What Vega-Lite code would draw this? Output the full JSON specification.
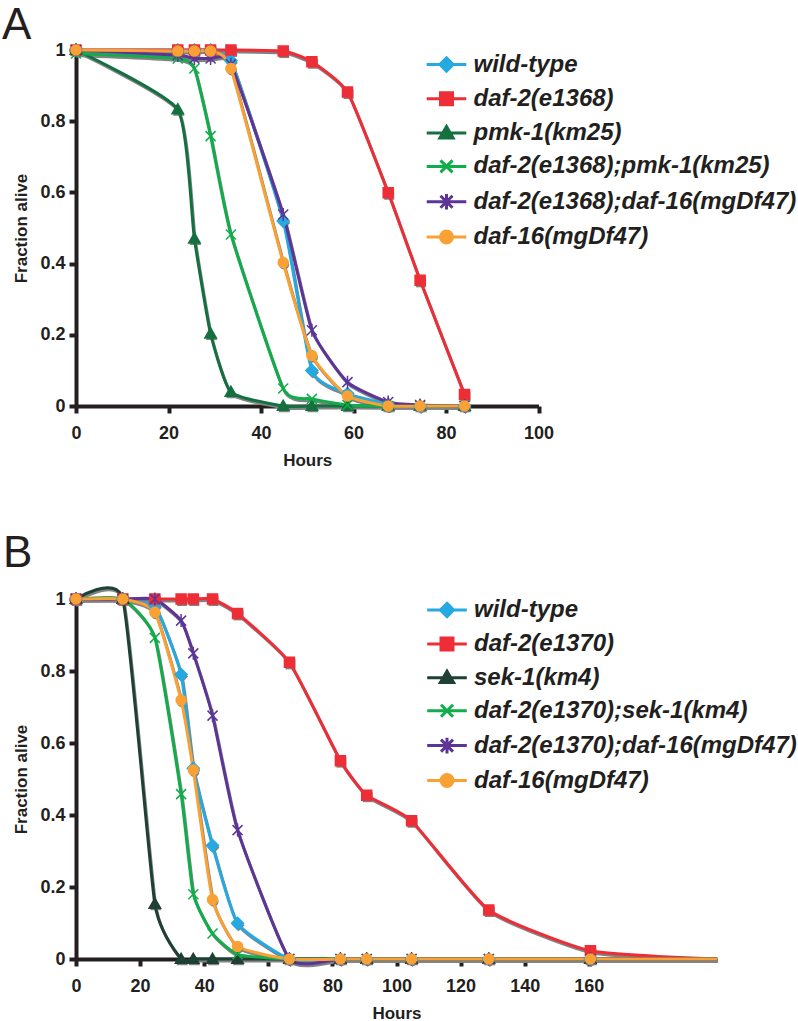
{
  "$schema": "https://vega.github.io/schema/vega-lite/v6.json",
  "background": "white",
  "padding": {"left": 2, "top": 3, "right": 0, "bottom": 0},
  "config": {
    "view": {"stroke": null},
    "font": "Liberation Sans",
    "axis": {"domainColor": "#231f20", "domainWidth": 4, "tickColor": "#231f20", "tickWidth": 4, "tickSize": 7, "labelFontSize": 18, "labelFontWeight": "bold", "labelColor": "#231f20", "labelFont": "Liberation Sans", "titleFontSize": 17, "titleFontWeight": "bold", "titleColor": "#231f20", "titleFont": "Liberation Sans", "grid": false, "labelFlush": false},
    "axisX": {"labelPadding": 11, "titlePadding": 10},
    "axisY": {"labelPadding": 4, "titlePadding": 9},
    "legend": {"labelFontSize": 24, "labelFontStyle": "italic", "labelFontWeight": "bold", "labelColor": "#231f20", "labelFont": "Liberation Sans", "symbolSize": 144, "symbolStrokeWidth": 3, "labelOffset": 15, "rowPadding": 8.9, "padding": 0, "labelLimit": 600, "symbolOpacity": 1, "symbolFillColor": "#000000", "symbolStrokeColor": "#000000"},
    "title": {"anchor": "start", "frame": "group", "fontSize": 44, "fontWeight": "normal", "color": "#231f20", "font": "Liberation Sans"}
  },
  "datasets": {
    "A": [
      {"s": "wild-type", "h": 0, "f": 1}, {"s": "wild-type", "h": 22, "f": 1}, {"s": "wild-type", "h": 25.6, "f": 1}, {"s": "wild-type", "h": 29.1, "f": 1}, {"s": "wild-type", "h": 33.5, "f": 0.97}, {"s": "wild-type", "h": 44.8, "f": 0.52}, {"s": "wild-type", "h": 51, "f": 0.1}, {"s": "wild-type", "h": 58.7, "f": 0.035}, {"s": "wild-type", "h": 67.5, "f": 0.005}, {"s": "wild-type", "h": 74.4, "f": 0}, {"s": "wild-type", "h": 84, "f": 0},
      {"s": "daf-2(e1368)", "h": 0, "f": 1}, {"s": "daf-2(e1368)", "h": 22, "f": 1}, {"s": "daf-2(e1368)", "h": 25.6, "f": 1}, {"s": "daf-2(e1368)", "h": 29.1, "f": 1}, {"s": "daf-2(e1368)", "h": 33.5, "f": 1}, {"s": "daf-2(e1368)", "h": 44.8, "f": 0.997}, {"s": "daf-2(e1368)", "h": 51, "f": 0.967}, {"s": "daf-2(e1368)", "h": 58.7, "f": 0.882}, {"s": "daf-2(e1368)", "h": 67.5, "f": 0.599}, {"s": "daf-2(e1368)", "h": 74.4, "f": 0.353}, {"s": "daf-2(e1368)", "h": 84, "f": 0.032},
      {"s": "pmk-1(km25)", "h": 0, "f": 1}, {"s": "pmk-1(km25)", "h": 22, "f": 0.833}, {"s": "pmk-1(km25)", "h": 25.6, "f": 0.47}, {"s": "pmk-1(km25)", "h": 29.1, "f": 0.203}, {"s": "pmk-1(km25)", "h": 33.5, "f": 0.039}, {"s": "pmk-1(km25)", "h": 44.8, "f": 0}, {"s": "pmk-1(km25)", "h": 51, "f": 0}, {"s": "pmk-1(km25)", "h": 58.7, "f": 0}, {"s": "pmk-1(km25)", "h": 67.5, "f": 0}, {"s": "pmk-1(km25)", "h": 74.4, "f": 0}, {"s": "pmk-1(km25)", "h": 84, "f": 0},
      {"s": "daf-2(e1368);pmk-1(km25)", "h": 0, "f": 0.99}, {"s": "daf-2(e1368);pmk-1(km25)", "h": 22, "f": 0.976}, {"s": "daf-2(e1368);pmk-1(km25)", "h": 25.6, "f": 0.948}, {"s": "daf-2(e1368);pmk-1(km25)", "h": 29.1, "f": 0.758}, {"s": "daf-2(e1368);pmk-1(km25)", "h": 33.5, "f": 0.482}, {"s": "daf-2(e1368);pmk-1(km25)", "h": 44.8, "f": 0.049}, {"s": "daf-2(e1368);pmk-1(km25)", "h": 51, "f": 0.02}, {"s": "daf-2(e1368);pmk-1(km25)", "h": 58.7, "f": 0.003}, {"s": "daf-2(e1368);pmk-1(km25)", "h": 67.5, "f": 0}, {"s": "daf-2(e1368);pmk-1(km25)", "h": 74.4, "f": 0}, {"s": "daf-2(e1368);pmk-1(km25)", "h": 84, "f": 0},
      {"s": "daf-2(e1368);daf-16(mgDf47)", "h": 0, "f": 1}, {"s": "daf-2(e1368);daf-16(mgDf47)", "h": 22, "f": 0.985}, {"s": "daf-2(e1368);daf-16(mgDf47)", "h": 25.6, "f": 0.976}, {"s": "daf-2(e1368);daf-16(mgDf47)", "h": 29.1, "f": 0.976}, {"s": "daf-2(e1368);daf-16(mgDf47)", "h": 33.5, "f": 0.96}, {"s": "daf-2(e1368);daf-16(mgDf47)", "h": 44.8, "f": 0.538}, {"s": "daf-2(e1368);daf-16(mgDf47)", "h": 51, "f": 0.213}, {"s": "daf-2(e1368);daf-16(mgDf47)", "h": 58.7, "f": 0.067}, {"s": "daf-2(e1368);daf-16(mgDf47)", "h": 67.5, "f": 0.011}, {"s": "daf-2(e1368);daf-16(mgDf47)", "h": 74.4, "f": 0.003}, {"s": "daf-2(e1368);daf-16(mgDf47)", "h": 84, "f": 0},
      {"s": "daf-16(mgDf47)", "h": 0, "f": 1}, {"s": "daf-16(mgDf47)", "h": 22, "f": 0.997}, {"s": "daf-16(mgDf47)", "h": 25.6, "f": 0.997}, {"s": "daf-16(mgDf47)", "h": 29.1, "f": 0.997}, {"s": "daf-16(mgDf47)", "h": 33.5, "f": 0.948}, {"s": "daf-16(mgDf47)", "h": 44.8, "f": 0.403}, {"s": "daf-16(mgDf47)", "h": 51, "f": 0.142}, {"s": "daf-16(mgDf47)", "h": 58.7, "f": 0.028}, {"s": "daf-16(mgDf47)", "h": 67.5, "f": 0}, {"s": "daf-16(mgDf47)", "h": 74.4, "f": 0}, {"s": "daf-16(mgDf47)", "h": 84, "f": 0}
    ],
    "B": [
      {"s": "wild-type", "h": 0, "f": 1}, {"s": "wild-type", "h": 14.6, "f": 1}, {"s": "wild-type", "h": 24.6, "f": 0.981}, {"s": "wild-type", "h": 32.8, "f": 0.79}, {"s": "wild-type", "h": 36.6, "f": 0.53}, {"s": "wild-type", "h": 42.6, "f": 0.315}, {"s": "wild-type", "h": 50.4, "f": 0.099}, {"s": "wild-type", "h": 66.6, "f": 0}, {"s": "wild-type", "h": 82.5, "f": 0}, {"s": "wild-type", "h": 90.7, "f": 0}, {"s": "wild-type", "h": 104.7, "f": 0}, {"s": "wild-type", "h": 128.8, "f": 0}, {"s": "wild-type", "h": 160.5, "f": 0}, {"s": "wild-type", "h": 200, "f": 0},
      {"s": "daf-2(e1370)", "h": 0, "f": 1}, {"s": "daf-2(e1370)", "h": 14.6, "f": 1}, {"s": "daf-2(e1370)", "h": 24.6, "f": 1}, {"s": "daf-2(e1370)", "h": 32.8, "f": 1}, {"s": "daf-2(e1370)", "h": 36.6, "f": 1}, {"s": "daf-2(e1370)", "h": 42.6, "f": 1}, {"s": "daf-2(e1370)", "h": 50.4, "f": 0.96}, {"s": "daf-2(e1370)", "h": 66.6, "f": 0.824}, {"s": "daf-2(e1370)", "h": 82.5, "f": 0.551}, {"s": "daf-2(e1370)", "h": 90.7, "f": 0.455}, {"s": "daf-2(e1370)", "h": 104.7, "f": 0.384}, {"s": "daf-2(e1370)", "h": 128.8, "f": 0.136}, {"s": "daf-2(e1370)", "h": 160.5, "f": 0.023}, {"s": "daf-2(e1370)", "h": 200, "f": 0},
      {"s": "sek-1(km4)", "h": 0, "f": 1}, {"s": "sek-1(km4)", "h": 14.6, "f": 1}, {"s": "sek-1(km4)", "h": 24.6, "f": 0.153}, {"s": "sek-1(km4)", "h": 32.8, "f": 0}, {"s": "sek-1(km4)", "h": 36.6, "f": 0}, {"s": "sek-1(km4)", "h": 42.6, "f": 0}, {"s": "sek-1(km4)", "h": 50.4, "f": 0}, {"s": "sek-1(km4)", "h": 66.6, "f": 0}, {"s": "sek-1(km4)", "h": 82.5, "f": 0}, {"s": "sek-1(km4)", "h": 90.7, "f": 0}, {"s": "sek-1(km4)", "h": 104.7, "f": 0}, {"s": "sek-1(km4)", "h": 128.8, "f": 0}, {"s": "sek-1(km4)", "h": 160.5, "f": 0}, {"s": "sek-1(km4)", "h": 200, "f": 0},
      {"s": "daf-2(e1370);sek-1(km4)", "h": 0, "f": 1}, {"s": "daf-2(e1370);sek-1(km4)", "h": 14.6, "f": 1}, {"s": "daf-2(e1370);sek-1(km4)", "h": 24.6, "f": 0.892}, {"s": "daf-2(e1370);sek-1(km4)", "h": 32.8, "f": 0.458}, {"s": "daf-2(e1370);sek-1(km4)", "h": 36.6, "f": 0.18}, {"s": "daf-2(e1370);sek-1(km4)", "h": 42.6, "f": 0.071}, {"s": "daf-2(e1370);sek-1(km4)", "h": 50.4, "f": 0.013}, {"s": "daf-2(e1370);sek-1(km4)", "h": 66.6, "f": 0}, {"s": "daf-2(e1370);sek-1(km4)", "h": 82.5, "f": 0}, {"s": "daf-2(e1370);sek-1(km4)", "h": 90.7, "f": 0}, {"s": "daf-2(e1370);sek-1(km4)", "h": 104.7, "f": 0}, {"s": "daf-2(e1370);sek-1(km4)", "h": 128.8, "f": 0}, {"s": "daf-2(e1370);sek-1(km4)", "h": 160.5, "f": 0}, {"s": "daf-2(e1370);sek-1(km4)", "h": 200, "f": 0},
      {"s": "daf-2(e1370);daf-16(mgDf47)", "h": 0, "f": 1}, {"s": "daf-2(e1370);daf-16(mgDf47)", "h": 14.6, "f": 1}, {"s": "daf-2(e1370);daf-16(mgDf47)", "h": 24.6, "f": 1}, {"s": "daf-2(e1370);daf-16(mgDf47)", "h": 32.8, "f": 0.94}, {"s": "daf-2(e1370);daf-16(mgDf47)", "h": 36.6, "f": 0.849}, {"s": "daf-2(e1370);daf-16(mgDf47)", "h": 42.6, "f": 0.676}, {"s": "daf-2(e1370);daf-16(mgDf47)", "h": 50.4, "f": 0.358}, {"s": "daf-2(e1370);daf-16(mgDf47)", "h": 66.6, "f": 0}, {"s": "daf-2(e1370);daf-16(mgDf47)", "h": 82.5, "f": 0}, {"s": "daf-2(e1370);daf-16(mgDf47)", "h": 90.7, "f": 0}, {"s": "daf-2(e1370);daf-16(mgDf47)", "h": 104.7, "f": 0}, {"s": "daf-2(e1370);daf-16(mgDf47)", "h": 128.8, "f": 0}, {"s": "daf-2(e1370);daf-16(mgDf47)", "h": 160.5, "f": 0}, {"s": "daf-2(e1370);daf-16(mgDf47)", "h": 200, "f": 0},
      {"s": "daf-16(mgDf47)", "h": 0, "f": 1}, {"s": "daf-16(mgDf47)", "h": 14.6, "f": 1}, {"s": "daf-16(mgDf47)", "h": 24.6, "f": 0.963}, {"s": "daf-16(mgDf47)", "h": 32.8, "f": 0.719}, {"s": "daf-16(mgDf47)", "h": 36.6, "f": 0.525}, {"s": "daf-16(mgDf47)", "h": 42.6, "f": 0.165}, {"s": "daf-16(mgDf47)", "h": 50.4, "f": 0.035}, {"s": "daf-16(mgDf47)", "h": 66.6, "f": 0}, {"s": "daf-16(mgDf47)", "h": 82.5, "f": 0}, {"s": "daf-16(mgDf47)", "h": 90.7, "f": 0}, {"s": "daf-16(mgDf47)", "h": 104.7, "f": 0}, {"s": "daf-16(mgDf47)", "h": 128.8, "f": 0}, {"s": "daf-16(mgDf47)", "h": 160.5, "f": 0}, {"s": "daf-16(mgDf47)", "h": 200, "f": 0}
    ]
  },
  "spacing": 63,
  "resolve": {"scale": {"color": "independent", "fill": "independent", "stroke": "independent", "shape": "independent", "x": "independent"}, "legend": {"color": "independent", "fill": "independent", "stroke": "independent", "shape": "independent"}},
  "vconcat": [
    {
      "title": {"text": "A", "dx": -74, "offset": -7},
      "width": 462.5,
      "height": 356,
      "data": {"name": "A"},
      "encoding": {
        "x": {"field": "h", "type": "quantitative", "scale": {"domain": [0, 100], "nice": false}, "axis": {"values": [0, 20, 40, 60, 80, 100], "title": "Hours"}},
        "y": {"field": "f", "type": "quantitative", "scale": {"domain": [0, 1], "nice": false}, "axis": {"values": [0, 0.2, 0.4, 0.6, 0.8, 1], "format": ".1~f", "title": "Fraction alive"}}
      },
      "resolve": {"scale": {"shape": "independent", "fill": "independent", "stroke": "independent"}, "legend": {"shape": "independent", "fill": "independent", "stroke": "independent"}},
      "layer": [
        {"mark": {"type": "line", "interpolate": "cardinal", "tension": 0.5, "color": "#808285", "strokeWidth": 3, "xOffset": 1, "yOffset": 2}, "encoding": {"detail": {"field": "s"}}},
        {"mark": {"type": "point", "filled": true, "color": "#808285", "opacity": 1, "size": 100, "xOffset": 1, "yOffset": 2},
         "encoding": {"shape": {"field": "s", "type": "nominal", "legend": null, "scale": {"domain": ["wild-type", "daf-2(e1368)", "pmk-1(km25)", "daf-2(e1368);pmk-1(km25)", "daf-2(e1368);daf-16(mgDf47)", "daf-16(mgDf47)"], "range": ["M0,-1.2L1.2,0L0,1.2L-1.2,0Z", "M-1,-1H1V1H-1Z", "M0,-1.15L1.15,0.85H-1.15Z", "M-1,-1L1,1M-1,1L1,-1", "M-1,-1L1,1M-1,1L1,-1M0,-1.3V1.3", "M1,0A1,1,0,1,1,-1,0A1,1,0,1,1,1,0Z"]}}}},
        {"mark": {"type": "line", "interpolate": "cardinal", "tension": 0.5, "strokeWidth": 3},
         "encoding": {"color": {"field": "s", "type": "nominal", "legend": null, "scale": {"domain": ["wild-type", "daf-2(e1368)", "pmk-1(km25)", "daf-2(e1368);pmk-1(km25)", "daf-2(e1368);daf-16(mgDf47)", "daf-16(mgDf47)"], "range": ["#25a9e0", "#ee2e36", "#14703f", "#12ad4b", "#5c3596", "#f9a134"]}}}},
        {"mark": {"type": "point", "filled": true, "opacity": 1, "size": 100, "strokeWidth": 1.5},
         "encoding": {
           "color": {"field": "s", "type": "nominal", "legend": null},
           "stroke": {"field": "s", "type": "nominal", "legend": null, "scale": {"domain": ["wild-type", "daf-2(e1368)", "pmk-1(km25)", "daf-2(e1368);pmk-1(km25)", "daf-2(e1368);daf-16(mgDf47)", "daf-16(mgDf47)"], "range": ["#25a9e0", "#ee2e36", "#14703f", "#12ad4b", "#5c3596", "#f9a134"]}},
           "shape": {"field": "s", "type": "nominal", "legend": null, "scale": {"domain": ["wild-type", "daf-2(e1368)", "pmk-1(km25)", "daf-2(e1368);pmk-1(km25)", "daf-2(e1368);daf-16(mgDf47)", "daf-16(mgDf47)"], "range": ["M0,-1.2L1.2,0L0,1.2L-1.2,0Z", "M-1,-1H1V1H-1Z", "M0,-1.15L1.15,0.85H-1.15Z", "M-1,-1L1,1M-1,1L1,-1", "M-1,-1L1,1M-1,1L1,-1M0,-1.3V1.3", "M1,0A1,1,0,1,1,-1,0A1,1,0,1,1,1,0Z"]}}
         }},
        {"mark": {"type": "point", "filled": true, "opacity": 0, "size": 100, "strokeWidth": 3},
         "encoding": {
           "fill": {"field": "s", "type": "nominal", "legend": {"orient": "none", "legendX": 358.5, "legendY": 2.5, "rowPadding": 9.3, "title": null}, "scale": {"domain": ["wild-type", "daf-2(e1368)", "pmk-1(km25)", "daf-2(e1368);pmk-1(km25)", "daf-2(e1368);daf-16(mgDf47)", "daf-16(mgDf47)"], "range": ["#25a9e0", "#ee2e36", "#14703f", "#12ad4b", "#5c3596", "#f9a134"]}},
           "stroke": {"field": "s", "type": "nominal", "legend": {"orient": "none", "legendX": 358.5, "legendY": 2.5, "rowPadding": 9.3, "title": null}, "scale": {"domain": ["wild-type", "daf-2(e1368)", "pmk-1(km25)", "daf-2(e1368);pmk-1(km25)", "daf-2(e1368);daf-16(mgDf47)", "daf-16(mgDf47)"], "range": ["#25a9e0", "#ee2e36", "#14703f", "#12ad4b", "#5c3596", "#f9a134"]}},
           "shape": {"field": "s", "type": "nominal", "legend": {"orient": "none", "legendX": 358.5, "legendY": 2.5, "rowPadding": 9.3, "title": null}, "scale": {"domain": ["wild-type", "daf-2(e1368)", "pmk-1(km25)", "daf-2(e1368);pmk-1(km25)", "daf-2(e1368);daf-16(mgDf47)", "daf-16(mgDf47)"], "range": ["M-3.3,0H3.3M0,-1.1L1.1,0L0,1.1L-1.1,0Z", "M-3.3,0H3.3M-1,-1H1V1H-1Z", "M-3.3,0H3.3M0,-1.1L1.1,0.8H-1.1Z", "M-3.3,0H3.3M-1,-1L1,1M-1,1L1,-1", "M-3.3,0H3.3M-1,-1L1,1M-1,1L1,-1M0,-1.3V1.3", "M-3.3,0H3.3M1,0A1,1,0,1,1,-1,0A1,1,0,1,1,1,0Z"]}}
         }}
      ]
    },
    {
      "title": {"text": "B", "dx": -73, "offset": 6},
      "width": 641,
      "height": 360,
      "data": {"name": "B"},
      "encoding": {
        "x": {"field": "h", "type": "quantitative", "scale": {"domain": [0, 200], "nice": false}, "axis": {"values": [0, 20, 40, 60, 80, 100, 120, 140, 160], "title": "Hours"}},
        "y": {"field": "f", "type": "quantitative", "scale": {"domain": [0, 1], "nice": false}, "axis": {"values": [0, 0.2, 0.4, 0.6, 0.8, 1], "format": ".1~f", "title": "Fraction alive"}}
      },
      "resolve": {"scale": {"shape": "independent", "fill": "independent", "stroke": "independent"}, "legend": {"shape": "independent", "fill": "independent", "stroke": "independent"}},
      "layer": [
        {"mark": {"type": "line", "interpolate": "cardinal", "tension": 0.5, "color": "#808285", "strokeWidth": 3, "xOffset": 1, "yOffset": 2}, "encoding": {"detail": {"field": "s"}}},
        {"transform": [{"filter": "datum.h < 190"}],
         "mark": {"type": "point", "filled": true, "color": "#808285", "opacity": 1, "size": 100, "xOffset": 1, "yOffset": 2},
         "encoding": {"shape": {"field": "s", "type": "nominal", "legend": null, "scale": {"domain": ["wild-type", "daf-2(e1370)", "sek-1(km4)", "daf-2(e1370);sek-1(km4)", "daf-2(e1370);daf-16(mgDf47)", "daf-16(mgDf47)"], "range": ["M0,-1.2L1.2,0L0,1.2L-1.2,0Z", "M-1,-1H1V1H-1Z", "M0,-1.15L1.15,0.85H-1.15Z", "M-1,-1L1,1M-1,1L1,-1", "M-1,-1L1,1M-1,1L1,-1M0,-1.3V1.3", "M1,0A1,1,0,1,1,-1,0A1,1,0,1,1,1,0Z"]}}}},
        {"mark": {"type": "line", "interpolate": "cardinal", "tension": 0.5, "strokeWidth": 3},
         "encoding": {"color": {"field": "s", "type": "nominal", "legend": null, "scale": {"domain": ["wild-type", "daf-2(e1370)", "sek-1(km4)", "daf-2(e1370);sek-1(km4)", "daf-2(e1370);daf-16(mgDf47)", "daf-16(mgDf47)"], "range": ["#25a9e0", "#ee2e36", "#1f4034", "#12ad4b", "#5c3596", "#f9a134"]}}}},
        {"transform": [{"filter": "datum.h < 190"}],
         "mark": {"type": "point", "filled": true, "opacity": 1, "size": 100, "strokeWidth": 1.5},
         "encoding": {
           "color": {"field": "s", "type": "nominal", "legend": null},
           "stroke": {"field": "s", "type": "nominal", "legend": null, "scale": {"domain": ["wild-type", "daf-2(e1370)", "sek-1(km4)", "daf-2(e1370);sek-1(km4)", "daf-2(e1370);daf-16(mgDf47)", "daf-16(mgDf47)"], "range": ["#25a9e0", "#ee2e36", "#1f4034", "#12ad4b", "#5c3596", "#f9a134"]}},
           "shape": {"field": "s", "type": "nominal", "legend": null, "scale": {"domain": ["wild-type", "daf-2(e1370)", "sek-1(km4)", "daf-2(e1370);sek-1(km4)", "daf-2(e1370);daf-16(mgDf47)", "daf-16(mgDf47)"], "range": ["M0,-1.2L1.2,0L0,1.2L-1.2,0Z", "M-1,-1H1V1H-1Z", "M0,-1.15L1.15,0.85H-1.15Z", "M-1,-1L1,1M-1,1L1,-1", "M-1,-1L1,1M-1,1L1,-1M0,-1.3V1.3", "M1,0A1,1,0,1,1,-1,0A1,1,0,1,1,1,0Z"]}}
         }},
        {"transform": [{"filter": "datum.h < 190"}],
         "mark": {"type": "point", "filled": true, "opacity": 0, "size": 100, "strokeWidth": 3},
         "encoding": {
           "fill": {"field": "s", "type": "nominal", "legend": {"orient": "none", "legendX": 359, "legendY": -1, "title": null}, "scale": {"domain": ["wild-type", "daf-2(e1370)", "sek-1(km4)", "daf-2(e1370);sek-1(km4)", "daf-2(e1370);daf-16(mgDf47)", "daf-16(mgDf47)"], "range": ["#25a9e0", "#ee2e36", "#1f4034", "#12ad4b", "#5c3596", "#f9a134"]}},
           "stroke": {"field": "s", "type": "nominal", "legend": {"orient": "none", "legendX": 359, "legendY": -1, "title": null}, "scale": {"domain": ["wild-type", "daf-2(e1370)", "sek-1(km4)", "daf-2(e1370);sek-1(km4)", "daf-2(e1370);daf-16(mgDf47)", "daf-16(mgDf47)"], "range": ["#25a9e0", "#ee2e36", "#1f4034", "#12ad4b", "#5c3596", "#f9a134"]}},
           "shape": {"field": "s", "type": "nominal", "legend": {"orient": "none", "legendX": 359, "legendY": -1, "title": null}, "scale": {"domain": ["wild-type", "daf-2(e1370)", "sek-1(km4)", "daf-2(e1370);sek-1(km4)", "daf-2(e1370);daf-16(mgDf47)", "daf-16(mgDf47)"], "range": ["M-3.3,0H3.3M0,-1.1L1.1,0L0,1.1L-1.1,0Z", "M-3.3,0H3.3M-1,-1H1V1H-1Z", "M-3.3,0H3.3M0,-1.1L1.1,0.8H-1.1Z", "M-3.3,0H3.3M-1,-1L1,1M-1,1L1,-1", "M-3.3,0H3.3M-1,-1L1,1M-1,1L1,-1M0,-1.3V1.3", "M-3.3,0H3.3M1,0A1,1,0,1,1,-1,0A1,1,0,1,1,1,0Z"]}}
         }}
      ]
    }
  ]
}
